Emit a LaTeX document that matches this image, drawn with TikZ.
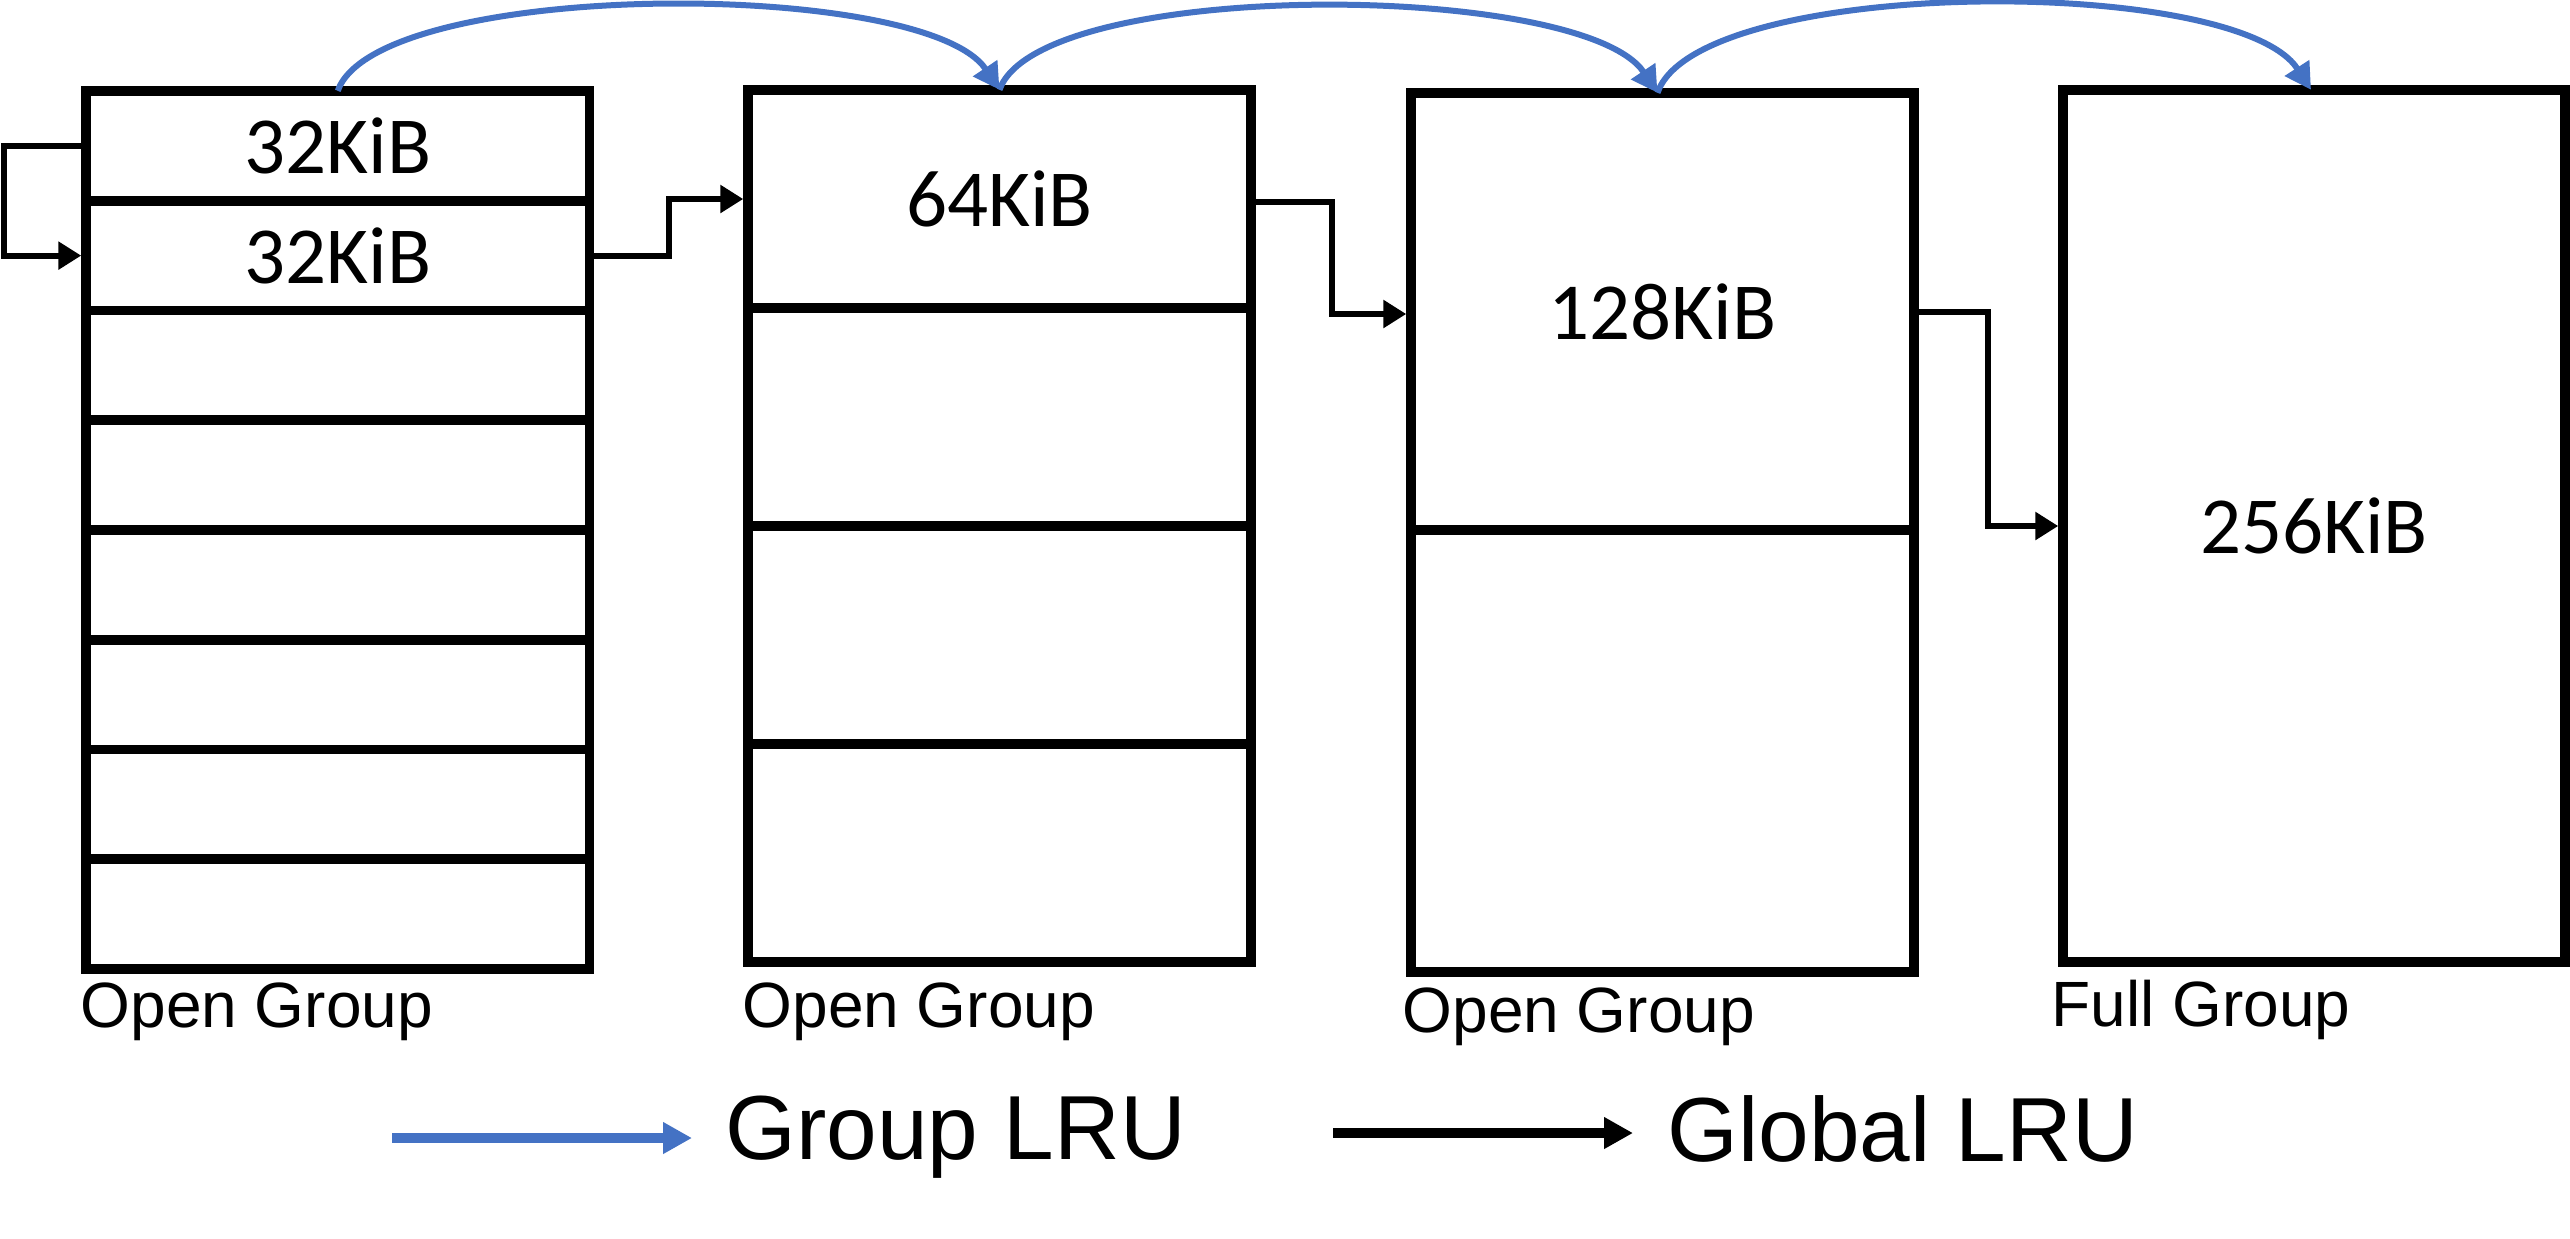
\documentclass[tikz,border=0pt]{standalone}
\usepackage{fontspec}
\setmainfont{Liberation Sans}
\newfontfamily\carlito{Carlito}
\usetikzlibrary{arrows.meta}
\definecolor{lrublue}{HTML}{4472C4}
\begin{document}
\begin{tikzpicture}[x=0.3pt,y=-0.3pt,
  cell/.style={draw=black, line width=2.85pt, inner sep=0pt,
    font=\carlito\fontsize{24.3pt}{29pt}\selectfont},
  cellA/.style={cell, minimum width=151.05pt, minimum height=32.925pt},
  cellB/.style={cell, minimum width=150.9pt, minimum height=65.4pt},
  grplabel/.style={inner sep=0pt, anchor=base west,
    font=\fontsize{19.2pt}{23pt}\selectfont},
  leglabel/.style={inner sep=0pt, anchor=base west,
    font=\fontsize{27.3pt}{32pt}\selectfont},
  globalarrow/.style={draw=black, line width=1.8pt,
    -{Triangle[length=6.9pt,width=8.1pt]}},
  grouparrow/.style={draw=lrublue, line width=1.8pt,
    -{Triangle[length=7.8pt,width=8.4pt]}},
  legglobal/.style={draw=black, line width=2.85pt,
    -{Triangle[length=8.7pt,width=9pt]}},
  leggroup/.style={draw=lrublue, line width=2.85pt,
    -{Triangle[length=8.7pt,width=9pt]}}
]
\useasboundingbox (0,0) rectangle (2570,1238);
\fill[white] (0,0) rectangle (2570,1238);

% Box 1: eight 32KiB slots
\node[cellA] (b1r1) at (337.75,145.9) {32KiB};
\node[cellA] (b1r2) at (337.75,255.6) {32KiB};
\node[cellA] (b1r3) at (337.75,365.4) {};
\node[cellA] (b1r4) at (337.75,475.1) {};
\node[cellA] (b1r5) at (337.75,584.9) {};
\node[cellA] (b1r6) at (337.75,694.6) {};
\node[cellA] (b1r7) at (337.75,804.4) {};
\node[cellA] (b1r8) at (337.75,914.1) {};

% Box 2: four 64KiB slots
\node[cellB] (b2r1) at (999.5,199) {64KiB};
\node[cellB] (b2r2) at (999.5,417) {};
\node[cellB] (b2r3) at (999.5,635) {};
\node[cellB] (b2r4) at (999.5,853) {};

% Box 3: two 128KiB slots
\node[cell, minimum width=150.9pt, minimum height=131.1pt] (b3r1) at (1662.5,311.5) {128KiB};
\node[cell, minimum width=150.9pt, minimum height=132.6pt] (b3r2) at (1662.5,751) {};

% Box 4: one 256KiB slot
\node[cell, minimum width=150.6pt, minimum height=261.6pt] (b4) at (2314,526) {256KiB};

% Group labels
\node[grplabel] (l1) at (80,1027) {Open Group};
\node[grplabel] (l2) at (742,1027) {Open Group};
\node[grplabel] (l3) at (1402,1032) {Open Group};
\node[grplabel] (l4) at (2051,1026) {Full Group};

% Global LRU connectors
\draw[globalarrow] (b1r1.west) -- ++(-77,0) |- (b1r2.west);
\draw[globalarrow] (b1r2.east) -- ++(75,0) |- (b2r1.west);
\draw[globalarrow] ([yshift=-0.9pt]b2r1.east) -- ++(76,0) |- ([yshift=-0.75pt]b3r1.west);
\draw[globalarrow] (b3r1.east) -- ++(69,0) |- (b4.west);

% Group LRU arcs
\draw[grouparrow] ([yshift=-1.35pt]b1r1.north) .. controls +(40,-112) and +(-75,-112) .. ([yshift=-1.35pt]b2r1.north);
\draw[grouparrow] ([yshift=-1.35pt]b2r1.north) .. controls +(40,-112) and +(-75,-112) .. ([xshift=-1.5pt,yshift=-1.35pt]b3r1.north);
\draw[grouparrow] ([xshift=-1.5pt,yshift=-1.35pt]b3r1.north) .. controls +(40,-116) and +(-75,-116) .. ([xshift=-0.9pt,yshift=-1.35pt]b4.north);

% Legend
\coordinate (lga) at (392,1138);
\coordinate (lgb) at (692,1138);
\coordinate (lgc) at (1333,1133);
\coordinate (lgd) at (1633,1133);
\draw[leggroup] (lga) -- (lgb);
\draw[legglobal] (lgc) -- (lgd);
\node[leglabel] (lg1) at (725,1159) {Group LRU};
\node[leglabel] (lg2) at (1667,1161) {Global LRU};
\end{tikzpicture}
\end{document}
